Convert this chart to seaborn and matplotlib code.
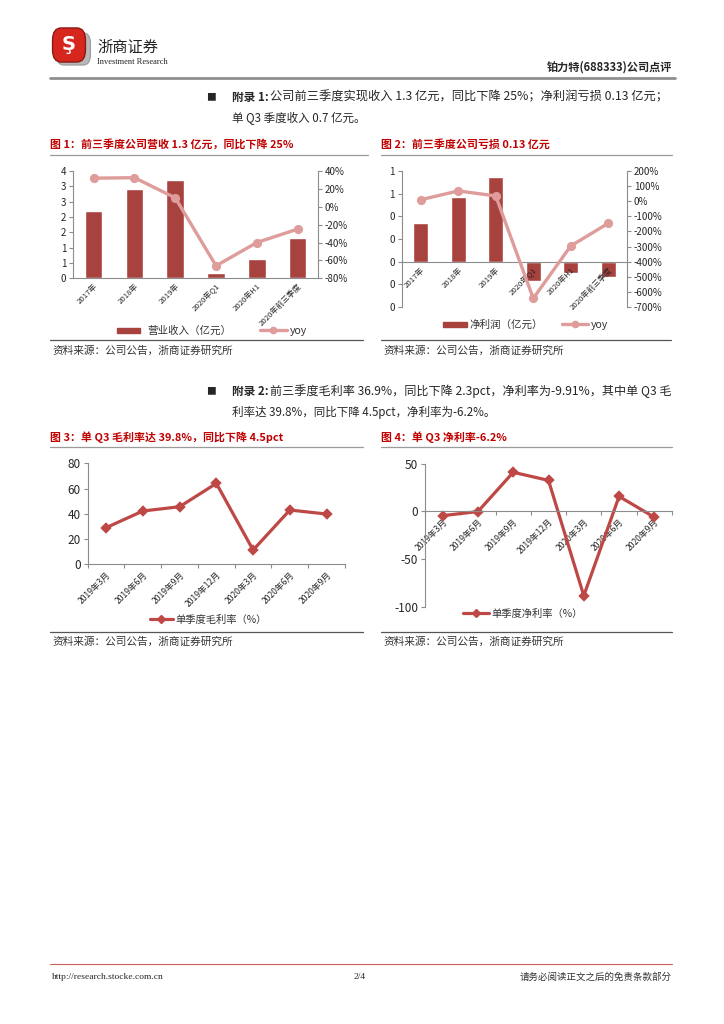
import math
import numpy as np
import pandas as pd
import matplotlib
matplotlib.use("Agg")
import matplotlib.pyplot as plt
import seaborn as sns
from matplotlib.ticker import FuncFormatter, FixedLocator
from matplotlib.patches import Rectangle, FancyBboxPatch
from matplotlib.lines import Line2D

sns.set_theme(style="white")
plt.rcParams['font.family'] = ['Noto Sans CJK SC', 'DejaVu Sans']
plt.rcParams['axes.unicode_minus'] = False

# ---------------- data ----------------
year_cats = ["2017年", "2018年", "2019年", "2020年Q1", "2020年H1", "2020年前三季度"]
revenue = [2.20, 2.90, 3.21, 0.17, 0.64, 1.32]          # 营业收入（亿元）
revenue_yoy = [32, 32.5, 10, -66, -40, -25]              # yoy %
net_profit = [0.344, 0.574, 0.744, -0.168, -0.097, -0.132]  # 净利润（亿元）
net_profit_yoy = [10, 68, 35, -643, -296, -146]          # yoy %
quarter_cats = ["2019年3月", "2019年6月", "2019年9月", "2019年12月",
                "2020年3月", "2020年6月", "2020年9月"]
gross_margin = [29.0, 42.2, 45.6, 64.1, 11.3, 43.0, 39.8]   # 单季度毛利率（%）
net_margin = [-4.5, -0.2, 41.0, 32.5, -88.5, 15.7, -6.2]     # 单季度净利率（%）

BAR = "#A8423F"
YOY = "#DE9C9A"
LINE = "#BD4845"
TITLE_RED = "#C00000"
SPINE = "#8C8C8C"

W, H = 724, 1024
fig = plt.figure(figsize=(W / 100, H / 100), dpi=100)
fig.patch.set_facecolor("white")


def ax_at(x0, y0, x1, y1):
    return fig.add_axes([x0 / W, 1 - y1 / H, (x1 - x0) / W, (y1 - y0) / H])


def txt(x, y, s, **kw):
    kw.setdefault("va", "center")
    return fig.text(x / W, 1 - y / H, s, **kw)


def hline(x0, x1, y, **kw):
    fig.add_artist(Line2D([x0 / W, x1 / W], [1 - y / H, 1 - y / H], **kw))


def excel_int(v, pos=None):
    return f"{int(math.floor(v + 0.5 + 1e-9))}"


def style_axis(ax, left=True, right=False, bottom=True):
    for s in ["top", "right", "left", "bottom"]:
        ax.spines[s].set_visible(False)
    if left:
        ax.spines["left"].set_visible(True)
    if right:
        ax.spines["right"].set_visible(True)
    if bottom:
        ax.spines["bottom"].set_visible(True)
    for s in ax.spines.values():
        s.set_color(SPINE)
        s.set_linewidth(0.8)
    ax.set_facecolor("none")
    ax.grid(False)


def add_legend(handle, label, x, y, fs, hl, pad, hh=0.7):
    fig.legend([handle], [label], loc="center left", frameon=False,
               bbox_to_anchor=(x / W, 1 - y / H), bbox_transform=fig.transFigure,
               fontsize=fs, handlelength=hl, handletextpad=pad, handleheight=hh,
               borderpad=0, borderaxespad=0, labelcolor="#333333")


# ---------------- header ----------------
shadow = FancyBboxPatch((58 / W, 1 - 63 / H), 31 / W, 28 / H,
                        boxstyle="round,pad=0.002,rounding_size=0.010",
                        transform=fig.transFigure, facecolor="#B8B8B8",
                        edgecolor="#9A9A9A", linewidth=0.8)
fig.add_artist(shadow)
logo = FancyBboxPatch((54 / W, 1 - 60 / H), 30 / W, 30 / H,
                      boxstyle="round,pad=0.002,rounding_size=0.012",
                      transform=fig.transFigure, facecolor="#D7261E",
                      edgecolor="#8A1A14", linewidth=1.0)
fig.add_artist(logo)
txt(69, 45, "Ş", color="white", fontsize=14, fontweight="bold", ha="center",
    family=["DejaVu Sans"])
txt(97, 47, "浙商证券", fontsize=11, ha="left", color="#222222")
txt(97, 62, "Investment Research", fontsize=6, ha="left", color="#222222",
    family=["Liberation Serif"])
txt(672, 67, "铂力特(688333)公司点评", fontsize=8, fontweight="bold", ha="right")
hline(50, 675, 78, color="#8F8F8F", linewidth=2)

# ---------------- paragraph 1 ----------------
txt(206, 97, "■", fontsize=7, ha="left")
txt(232, 97, "附录 1:", fontsize=8.4, fontweight="bold", ha="left")
txt(270, 97, "公司前三季度实现收入 1.3 亿元，同比下降 25%；净利润亏损 0.13 亿元；",
    fontsize=8.8, ha="left")
txt(232, 118, "单 Q3 季度收入 0.7 亿元。", fontsize=8.3, ha="left")

# ---------------- titles ----------------
txt(50, 144, "图 1：前三季度公司营收 1.3 亿元，同比下降 25%", fontsize=7.9,
    fontweight="bold", color=TITLE_RED, ha="left")
txt(381, 144, "图 2：前三季度公司亏损 0.13 亿元", fontsize=7.9,
    fontweight="bold", color=TITLE_RED, ha="left")
hline(50, 368, 155, color="#9A9A9A", linewidth=0.9)
hline(381, 672, 155, color="#9A9A9A", linewidth=0.9)

# ---------------- chart 1 ----------------
ax1 = ax_at(73.3, 171, 318, 278.3)
sns.barplot(x=year_cats, y=revenue, color=BAR, saturation=1, width=0.43, ax=ax1)
ax2 = ax1.twinx()
sns.pointplot(x=year_cats, y=revenue_yoy, color=YOY, markers="o", markersize=4.8,
              linewidth=2.4, ax=ax2)
for a in (ax1, ax2):
    a.set_xlim(-0.5, 5.5)
    a.set_xlabel("")
    a.set_ylabel("")
ax1.set_ylim(0, 3.5)
ax1.yaxis.set_major_locator(FixedLocator(np.arange(0, 3.51, 0.5)))
ax1.yaxis.set_major_formatter(FuncFormatter(excel_int))
ax2.set_ylim(-80, 40)
ax2.yaxis.set_major_locator(FixedLocator(np.arange(-80, 41, 20)))
ax2.yaxis.set_major_formatter(FuncFormatter(lambda v, p: f"{v:.0f}%"))
style_axis(ax1, left=True, bottom=True)
style_axis(ax2, left=False, right=True, bottom=False)
ax1.set_xticks(range(len(year_cats)))
ax1.set_xticklabels(year_cats, rotation=45, ha="right", rotation_mode="anchor", fontsize=5.6)
ax1.tick_params(axis="x", length=0, pad=3)
ax1.tick_params(axis="y", labelsize=7, length=3, width=0.8, color=SPINE, direction="out", left=True, pad=2)
ax2.tick_params(axis="y", labelsize=7, length=3, width=0.8, color=SPINE, direction="out", right=True, pad=2)

add_legend(Rectangle((0, 0), 1, 1, color=BAR), "营业收入（亿元）", 117, 331, 7.6, 2.2, 0.7, 0.45)
add_legend(Line2D([], [], color=YOY, marker="o", markersize=4.5, linewidth=2.4), "yoy",
           260, 331, 7.6, 2.55, 0.3)

# ---------------- chart 2 ----------------
ax3 = ax_at(402, 171, 627, 307)
sns.barplot(x=year_cats, y=net_profit, color=BAR, saturation=1, width=0.41, ax=ax3)
ax4 = ax3.twinx()
sns.pointplot(x=year_cats, y=net_profit_yoy, color=YOY, markers="o", markersize=4.8,
              linewidth=2.4, ax=ax4)
for a in (ax3, ax4):
    a.set_xlim(-0.5, 5.5)
    a.set_xlabel("")
    a.set_ylabel("")
ax3.set_ylim(-0.4, 0.8)
ax3.yaxis.set_major_locator(FixedLocator(np.arange(-0.4, 0.81, 0.2)))
ax3.yaxis.set_major_formatter(FuncFormatter(excel_int))
ax4.set_ylim(-700, 200)
ax4.yaxis.set_major_locator(FixedLocator(np.arange(-700, 201, 100)))
ax4.yaxis.set_major_formatter(FuncFormatter(lambda v, p: f"{v:.0f}%"))
style_axis(ax3, left=True, bottom=True)
style_axis(ax4, left=False, right=True, bottom=False)
ax3.set_axisbelow(False)
ax3.spines["bottom"].set_position(("data", 0))
ax3.set_xticks(range(len(year_cats)))
ax3.set_xticklabels(year_cats, rotation=45, ha="right", rotation_mode="anchor", fontsize=5.6)
ax3.tick_params(axis="x", length=0, pad=3)
ax3.tick_params(axis="y", labelsize=7, length=3, width=0.8, color=SPINE, direction="out", left=True, pad=2)
ax4.tick_params(axis="y", labelsize=7, length=3, width=0.8, color=SPINE, direction="out", right=True, pad=2)

add_legend(Rectangle((0, 0), 1, 1, color=BAR), "净利润（亿元）", 443, 325, 7.6, 2.27, 0.25, 0.45)
add_legend(Line2D([], [], color=YOY, marker="o", markersize=4.5, linewidth=2.4), "yoy",
           562, 325, 7.6, 2.45, 0.25)

# source lines
hline(50, 363, 340, color="#555555", linewidth=0.9)
hline(381, 671, 340, color="#555555", linewidth=0.9)
txt(52, 351, "资料来源：公司公告，浙商证券研究所", fontsize=7.7, ha="left", color="#333333")
txt(383, 351, "资料来源：公司公告，浙商证券研究所", fontsize=7.7, ha="left", color="#333333")

# ---------------- paragraph 2 ----------------
txt(206, 391, "■", fontsize=7, ha="left")
txt(232, 391, "附录 2:", fontsize=8.4, fontweight="bold", ha="left")
txt(270, 391, "前三季度毛利率 36.9%，同比下降 2.3pct，净利率为-9.91%，其中单 Q3 毛",
    fontsize=8.7, ha="left")
txt(232, 412, "利率达 39.8%，同比下降 4.5pct，净利率为-6.2%。", fontsize=8.3, ha="left")

txt(50, 437, "图 3：单 Q3 毛利率达 39.8%，同比下降 4.5pct", fontsize=7.9,
    fontweight="bold", color=TITLE_RED, ha="left")
txt(381, 437, "图 4：单 Q3 净利率-6.2%", fontsize=7.9,
    fontweight="bold", color=TITLE_RED, ha="left")
hline(50, 363, 447, color="#9A9A9A", linewidth=0.9)
hline(381, 672, 447, color="#9A9A9A", linewidth=0.9)

# ---------------- chart 3 ----------------
ax5 = ax_at(87.7, 463.3, 345, 564.3)
sns.pointplot(x=quarter_cats, y=gross_margin, color=LINE, markers="D", markersize=4.5,
              linewidth=2.3, ax=ax5)
ax5.set_xlim(-0.5, 6.5)
ax5.set_ylim(0, 80)
ax5.set_xlabel("")
ax5.set_ylabel("")
ax5.yaxis.set_major_locator(FixedLocator(np.arange(0, 81, 20)))
ax5.yaxis.set_major_formatter(FuncFormatter(lambda v, p: f"{v:.0f}"))
style_axis(ax5, left=True, bottom=True)
ax5.set_xticks(range(len(quarter_cats)))
ax5.set_xticklabels(quarter_cats, rotation=45, ha="right", rotation_mode="anchor", fontsize=6.2)
ax5.set_xticks(np.arange(-0.5, 6.6, 1), minor=True)
ax5.tick_params(axis="x", which="major", length=0, pad=4)
ax5.tick_params(axis="x", which="minor", length=3, width=0.8, color=SPINE, bottom=True, direction="out")
ax5.tick_params(axis="y", labelsize=8.5, length=3, width=0.8, color=SPINE, direction="out", left=True, pad=2)

add_legend(Line2D([], [], color=LINE, marker="D", markersize=4.5, linewidth=2.3),
           "单季度毛利率（%）", 150, 620, 7.4, 2.2, 0.3)

# ---------------- chart 4 ----------------
ax6 = ax_at(425, 463.7, 672, 606.7)
sns.pointplot(x=quarter_cats, y=net_margin, color=LINE, markers="D", markersize=4.5,
              linewidth=2.3, ax=ax6)
ax6.set_xlim(-0.5, 6.5)
ax6.set_ylim(-100, 50)
ax6.set_xlabel("")
ax6.set_ylabel("")
ax6.yaxis.set_major_locator(FixedLocator(np.arange(-100, 51, 50)))
ax6.yaxis.set_major_formatter(FuncFormatter(lambda v, p: f"{v:.0f}"))
style_axis(ax6, left=True, bottom=True)
ax6.spines["bottom"].set_position(("data", 0))
ax6.set_xticks(range(len(quarter_cats)))
ax6.set_xticklabels(quarter_cats, rotation=45, ha="right", rotation_mode="anchor", fontsize=6.2)
ax6.set_xticks(np.arange(-0.5, 6.6, 1), minor=True)
ax6.tick_params(axis="x", which="major", length=0, pad=4)
ax6.tick_params(axis="x", which="minor", length=3, width=0.8, color=SPINE, bottom=True, direction="out")
ax6.tick_params(axis="y", labelsize=8.5, length=3, width=0.8, color=SPINE, direction="out", left=True, pad=2)

add_legend(Line2D([], [], color=LINE, marker="D", markersize=4.5, linewidth=2.3),
           "单季度净利率（%）", 463, 614, 7.4, 2.5, 0.3)

hline(50, 363, 632, color="#555555", linewidth=0.9)
hline(381, 672, 632, color="#555555", linewidth=0.9)
txt(52, 642, "资料来源：公司公告，浙商证券研究所", fontsize=7.7, ha="left", color="#333333")
txt(383, 642, "资料来源：公司公告，浙商证券研究所", fontsize=7.7, ha="left", color="#333333")

# ---------------- footer ----------------
hline(50, 672, 964, color="#C9605C", linewidth=0.8)
txt(52, 977, "http://research.stocke.com.cn", fontsize=6.8, ha="left",
    family=["Liberation Serif"])
txt(360, 977, "2/4", fontsize=6.8, ha="center", family=["Liberation Serif"])
txt(672, 977, "请务必阅读正文之后的免责条款部分", fontsize=6.8, ha="right", color="#333333")

fig.savefig("out.png", dpi=100, facecolor="white")
